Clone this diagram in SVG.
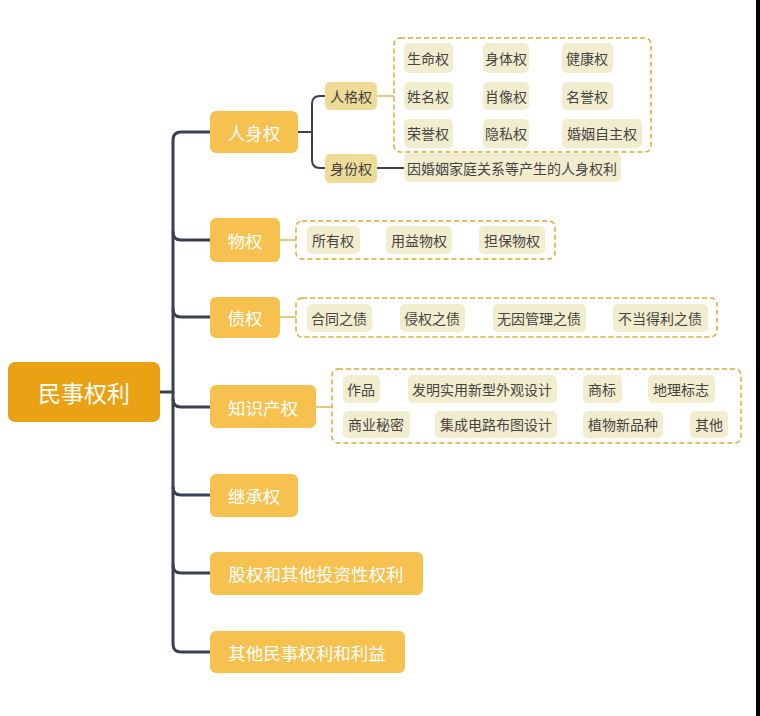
<svg xmlns="http://www.w3.org/2000/svg" width="760" height="716" viewBox="0 0 760 716">
<style>
text{font-family:"Noto Sans CJK SC","Noto Sans",sans-serif;dominant-baseline:central;text-anchor:middle}
.root rect{fill:#E8A214}
.root text{fill:#fff;font-size:23px}
.l1 rect{fill:#F6C14E}
.l1 text{fill:#fff;font-size:17.5px}
.l2 rect{fill:#EEDB97}
.l2 text{fill:#3f3f3f;font-size:14px}
.leaf rect{fill:#F3EDCF}
.leaf text{fill:#444;font-size:14px}
.grp{fill:none;stroke:#E0A83A;stroke-width:1.5;stroke-dasharray:5 3}
.trunk{fill:none;stroke:#394152;stroke-width:3;stroke-linecap:round}
.thin{fill:none;stroke:#394152;stroke-width:2}
.or{fill:none;stroke:#E0A83A;stroke-width:1.3}
</style>
<rect width="760" height="716" fill="#fff"/>
<rect x="756" y="0" width="4" height="716" fill="#000"/>
<g id="connectors">
<path class="trunk" d="M160,392 H173"/>
<path class="trunk" d="M210,132 H181 Q173,132 173,140 V644 Q173,652 181,652 H210"/>
<path class="trunk" d="M173,232 Q173,240 181,240 H210"/>
<path class="trunk" d="M173,309 Q173,317 181,317 H210"/>
<path class="trunk" d="M173,399 Q173,407 181,407 H210"/>
<path class="trunk" d="M173,487 Q173,495 181,495 H210"/>
<path class="trunk" d="M173,565 Q173,573 181,573 H210"/>
<path class="thin" d="M298,132 H312"/>
<path class="thin" d="M325,96 H320 Q312,96 312,104 V160 Q312,168 320,168 H325"/>
<path class="thin" d="M377,168 H404"/>
<path class="or" d="M377,96 H394"/>
<path class="or" d="M280,240 H296"/>
<path class="or" d="M280,317 H296"/>
<path class="or" d="M316,407 H332"/>
</g>
<g id="groups">
<rect class="grp" x="394" y="38" width="257" height="114" rx="6"/>
<rect class="grp" x="296" y="221" width="259" height="38" rx="6"/>
<rect class="grp" x="296" y="298" width="421" height="39" rx="6"/>
<rect class="grp" x="332" y="369" width="409" height="74" rx="6"/>
</g>
<g id="root" class="root"><rect x="8" y="362" width="152" height="60" rx="7"/><text x="84" y="392">民事权利</text></g>
<g id="renshen" class="l1"><rect x="210" y="111" width="88" height="42" rx="6"/><text x="254" y="132">人身权</text></g>
<g id="wuquan" class="l1"><rect x="210" y="218" width="70" height="44" rx="6"/><text x="245" y="240">物权</text></g>
<g id="zhaiquan" class="l1"><rect x="210" y="297" width="70" height="41" rx="6"/><text x="245" y="317">债权</text></g>
<g id="zhishi" class="l1"><rect x="210" y="385" width="106" height="43" rx="6"/><text x="263" y="407">知识产权</text></g>
<g id="jicheng" class="l1"><rect x="210" y="474" width="88" height="43" rx="6"/><text x="254" y="495">继承权</text></g>
<g id="guquan" class="l1"><rect x="210" y="552" width="213" height="43" rx="6"/><text x="316" y="573">股权和其他投资性权利</text></g>
<g id="qita" class="l1"><rect x="210" y="631" width="195" height="42" rx="6"/><text x="307" y="652">其他民事权利和利益</text></g>
<g id="renge" class="l2"><rect x="325" y="82" width="52" height="28" rx="5"/><text x="351" y="96">人格权</text></g>
<g id="shenfen" class="l2"><rect x="325" y="154" width="52" height="29" rx="5"/><text x="351" y="168">身份权</text></g>
<g id="leaf-shengming" class="leaf"><rect x="404" y="43" width="49" height="30" rx="5"/><text x="428" y="58">生命权</text></g>
<g id="leaf-shenti" class="leaf"><rect x="483" y="43" width="46" height="30" rx="5"/><text x="506" y="58">身体权</text></g>
<g id="leaf-jiankang" class="leaf"><rect x="562" y="43" width="51" height="30" rx="5"/><text x="587" y="58">健康权</text></g>
<g id="leaf-xingming" class="leaf"><rect x="404" y="82" width="49" height="28" rx="5"/><text x="428" y="96">姓名权</text></g>
<g id="leaf-xiaoxiang" class="leaf"><rect x="483" y="82" width="46" height="28" rx="5"/><text x="506" y="96">肖像权</text></g>
<g id="leaf-mingyu" class="leaf"><rect x="562" y="82" width="51" height="28" rx="5"/><text x="587" y="96">名誉权</text></g>
<g id="leaf-rongyu" class="leaf"><rect x="404" y="119" width="49" height="29" rx="5"/><text x="428" y="133">荣誉权</text></g>
<g id="leaf-yinsi" class="leaf"><rect x="483" y="119" width="46" height="29" rx="5"/><text x="506" y="133">隐私权</text></g>
<g id="leaf-hunyin" class="leaf"><rect x="562" y="119" width="80" height="29" rx="5"/><text x="602" y="133">婚姻自主权</text></g>
<g id="leaf-shenfenli" class="leaf"><rect x="404" y="153" width="217" height="29" rx="5"/><text x="512" y="168">因婚姻家庭关系等产生的人身权利</text></g>
<g id="leaf-suoyou" class="leaf"><rect x="307" y="226" width="53" height="28" rx="5"/><text x="333" y="240">所有权</text></g>
<g id="leaf-yongyi" class="leaf"><rect x="386" y="226" width="66" height="28" rx="5"/><text x="419" y="240">用益物权</text></g>
<g id="leaf-danbao" class="leaf"><rect x="479" y="226" width="66" height="28" rx="5"/><text x="512" y="240">担保物权</text></g>
<g id="leaf-hetong" class="leaf"><rect x="307" y="304" width="65" height="28" rx="5"/><text x="339" y="318">合同之债</text></g>
<g id="leaf-qinquan" class="leaf"><rect x="400" y="304" width="65" height="28" rx="5"/><text x="432" y="318">侵权之债</text></g>
<g id="leaf-wuyin" class="leaf"><rect x="493" y="304" width="93" height="28" rx="5"/><text x="539" y="318">无因管理之债</text></g>
<g id="leaf-budang" class="leaf"><rect x="613" y="304" width="95" height="28" rx="5"/><text x="660" y="318">不当得利之债</text></g>
<g id="leaf-zuopin" class="leaf"><rect x="343" y="375" width="37" height="28" rx="5"/><text x="361" y="389">作品</text></g>
<g id="leaf-faming" class="leaf"><rect x="408" y="375" width="149" height="28" rx="5"/><text x="482" y="389">发明实用新型外观设计</text></g>
<g id="leaf-shangbiao" class="leaf"><rect x="583" y="375" width="39" height="28" rx="5"/><text x="602" y="389">商标</text></g>
<g id="leaf-dili" class="leaf"><rect x="648" y="375" width="67" height="28" rx="5"/><text x="681" y="389">地理标志</text></g>
<g id="leaf-mimi" class="leaf"><rect x="343" y="411" width="67" height="27" rx="5"/><text x="376" y="424">商业秘密</text></g>
<g id="leaf-jicheng" class="leaf"><rect x="435" y="411" width="122" height="27" rx="5"/><text x="496" y="424">集成电路布图设计</text></g>
<g id="leaf-zhiwu" class="leaf"><rect x="583" y="411" width="80" height="27" rx="5"/><text x="623" y="424">植物新品种</text></g>
<g id="leaf-qita" class="leaf"><rect x="690" y="411" width="38" height="27" rx="5"/><text x="709" y="424">其他</text></g>
</svg>
